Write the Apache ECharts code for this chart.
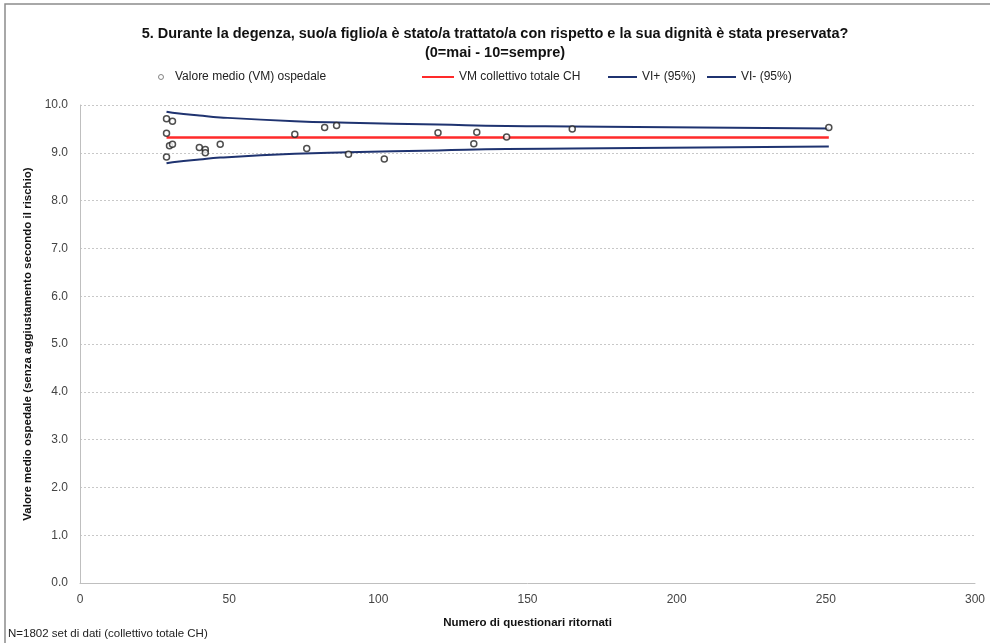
<!DOCTYPE html>
<html>
<head>
<meta charset="utf-8">
<title>Rispetto e dignità</title>
<script src="https://cdn.jsdelivr.net/npm/echarts@6/dist/echarts.min.js"></script>
<style>
  html, body { margin: 0; padding: 0; background: #fff; }
  #chart { width: 990px; height: 643px; }
</style>
</head>
<body>
<div id="chart"></div>
<script>
(function() {
  'use strict';

  // valori medi per ospedale: n questionari / valore medio
  var hospN = [29, 31, 29, 30, 31, 29, 40, 42, 42, 47, 72, 76, 82, 86, 90, 102, 120, 132, 133, 143, 165, 251];
  var hospVM = [9.71, 9.66, 9.41, 9.15, 9.18, 8.91, 9.11, 9.07, 9.00, 9.18, 9.39, 9.09, 9.53, 9.57, 8.97, 8.87, 9.42, 9.19, 9.43, 9.33, 9.50, 9.53];

  // VM collettivo totale CH
  var meanN = [29, 251];
  var meanVM = [9.32, 9.32];

  // intervallo di confidenza
  var ciN = [29, 31, 40, 47, 72, 90, 120, 143, 165, 251];
  var ciUpper = [9.86, 9.84, 9.78, 9.74, 9.66, 9.63, 9.59, 9.56, 9.55, 9.51];
  var ciLower = [8.78, 8.80, 8.86, 8.90, 8.98, 9.01, 9.05, 9.08, 9.09, 9.13];

  var xTicks = [0, 300, 50];
  var yTicks = [0, 10, 1];

  var FONT = "'Liberation Sans', sans-serif";
  var NAVY = '#1f3370';
  var RED = '#ff2a2a';

  function pairs(xs, ys) {
    return xs.map(function(x, i) { return [x, ys[i]]; });
  }

  // una legenda per voce, per poterle posizionare come nell'originale
  function legendAt(name, left, width, color, isDot) {
    var item = { name: name, icon: isDot ? 'circle' : 'rect' };
    item.itemStyle = isDot
      ? { color: '#fff', borderColor: '#666', borderWidth: 1 }
      : { color: color, borderWidth: 0 };
    return {
      data: [item],
      left: left,
      top: 66,
      itemWidth: width,
      itemHeight: isDot ? 5 : 2,
      itemGap: 0,
      textStyle: { fontFamily: FONT, fontSize: 12, color: '#222', padding: [0, 0, 0, isDot ? 6 : 0] }
    };
  }

  var chart = echarts.init(document.getElementById('chart'));

  chart.setOption({
    backgroundColor: '#fff',
    animation: false,
    textStyle: { fontFamily: FONT },
    title: {
      text: '5. Durante la degenza, suo/a figlio/a è stato/a trattato/a con rispetto e la sua dignità è stata preservata?\n(0=mai - 10=sempre)',
      left: 'center',
      top: 19,
      textStyle: { fontFamily: FONT, fontSize: 14.5, fontWeight: 'bold', color: '#111', lineHeight: 19 }
    },
    legend: [
      legendAt('Valore medio (VM) ospedale', 153, 6, null, true),
      legendAt('VM collettivo totale CH', 417, 32, RED),
      legendAt('VI+ (95%)', 603, 29, NAVY),
      legendAt('VI- (95%)', 702, 29, NAVY)
    ],
    grid: { left: 80, right: 15, top: 105, bottom: 60 },
    xAxis: {
      type: 'value',
      min: xTicks[0], max: xTicks[1], interval: xTicks[2],
      name: 'Numero di questionari ritornati',
      nameLocation: 'middle',
      nameGap: 34,
      nameTextStyle: { fontFamily: FONT, fontSize: 11.5, fontWeight: 'bold', color: '#111' },
      axisLine: { lineStyle: { color: '#bfbfbf' } },
      axisTick: { show: false },
      axisLabel: { fontFamily: FONT, fontSize: 12, color: '#444', margin: 11 },
      splitLine: { show: false }
    },
    yAxis: {
      type: 'value',
      min: yTicks[0], max: yTicks[1], interval: yTicks[2],
      name: 'Valore medio ospedale (senza aggiustamento secondo il rischio)',
      nameLocation: 'middle',
      nameGap: 40,
      nameTextStyle: { fontFamily: FONT, fontSize: 11.5, fontWeight: 'bold', color: '#111' },
      axisLine: { show: true, lineStyle: { color: '#bfbfbf' } },
      axisTick: { show: false },
      axisLabel: {
        fontFamily: FONT, fontSize: 12, color: '#444', margin: 12,
        formatter: function(v) { return v.toFixed(1); }
      },
      splitLine: { lineStyle: { color: '#c8c8c8', type: [2, 2] } }
    },
    series: [
      {
        name: 'Valore medio (VM) ospedale',
        type: 'scatter',
        data: pairs(hospN, hospVM),
        symbol: 'circle',
        symbolSize: 6,
        itemStyle: { color: '#fff', borderColor: '#222', borderWidth: 1.5 },
        z: 5
      },
      {
        name: 'VM collettivo totale CH',
        type: 'line',
        data: pairs(meanN, meanVM),
        showSymbol: false,
        lineStyle: { color: RED, width: 2.5 },
        itemStyle: { color: RED }
      },
      {
        name: 'VI+ (95%)',
        type: 'line',
        data: pairs(ciN, ciUpper),
        smooth: true,
        showSymbol: false,
        lineStyle: { color: NAVY, width: 2 },
        itemStyle: { color: NAVY }
      },
      {
        name: 'VI- (95%)',
        type: 'line',
        data: pairs(ciN, ciLower),
        smooth: true,
        showSymbol: false,
        lineStyle: { color: NAVY, width: 2 },
        itemStyle: { color: NAVY }
      }
    ],
    graphic: [
      {
        type: 'rect',
        shape: { x: 5, y: 4, width: 1000, height: 660 },
        style: { fill: 'none', stroke: '#8c8c8c', lineWidth: 1.5 },
        silent: true
      },
      {
        type: 'text',
        left: 8,
        top: 628,
        style: { text: 'N=1802 set di dati (collettivo totale CH)', fontFamily: FONT, fontSize: 11.5, fill: '#222' }
      }
    ]
  });

  window.addEventListener('resize', function() { chart.resize(); });
})();
</script>
</body>
</html>
